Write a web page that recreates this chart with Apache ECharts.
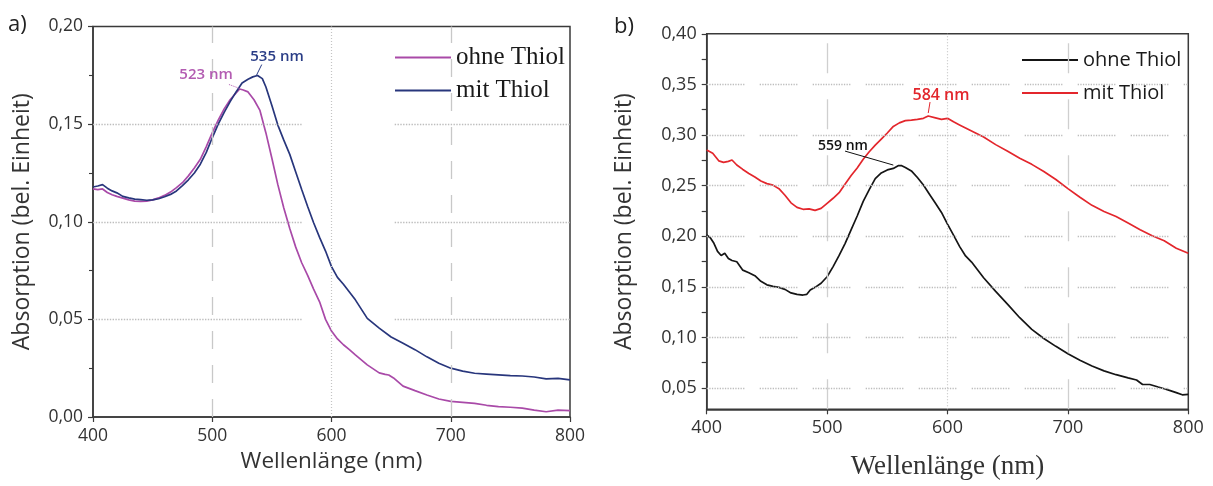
<!DOCTYPE html>
<html><head><meta charset="utf-8">
<script src="https://cdn.jsdelivr.net/npm/echarts@6/dist/echarts.min.js"></script>
<style>html,body{margin:0;padding:0;background:#fff}#c{width:1213px;height:486px}</style>
</head><body><div id="c"></div><script>
// ---------- Panel a) data ----------
const wlA_ohne = [400,404,408,412,416,420,425,430,435,440,445,450,455,460,465,470,475,480,485,490,495,500,505,510,515,520,523,526,530,535,540,545,550,555,560,565,570,575,580,585,590,595,600,605,610,615,620,630,640,645,648,652,660,670,680,690,700,710,720,730,740,750,760,770,780,790,800];
const absA_ohne = [0.1168,0.1165,0.1168,0.1150,0.1138,0.1130,0.1121,0.1112,0.1106,0.1104,0.1106,0.1112,0.1122,0.1135,0.1152,0.1175,0.1200,0.1235,0.1275,0.1320,0.1385,0.1455,0.1520,0.1578,0.1625,0.1660,0.1680,0.1675,0.1665,0.1625,0.1570,0.1455,0.1325,0.1190,0.1070,0.0965,0.0870,0.0790,0.0725,0.0655,0.0590,0.0500,0.0440,0.0400,0.0370,0.0345,0.0318,0.0267,0.0226,0.0218,0.0215,0.0200,0.0158,0.0135,0.0113,0.0092,0.0080,0.0075,0.0070,0.0060,0.0053,0.0050,0.0045,0.0035,0.0027,0.0035,0.0033];
const wlA_mit = [400,404,408,412,416,420,425,430,435,440,445,450,455,460,465,470,475,480,485,490,495,500,505,510,515,520,525,530,534,538,542,545,550,555,560,565,570,575,580,585,590,595,600,605,610,615,620,630,640,650,660,670,680,690,700,710,720,730,740,750,760,770,780,790,800];
const absA_mit = [0.1178,0.1183,0.1190,0.1172,0.1158,0.1148,0.1130,0.1122,0.1116,0.1113,0.1110,0.1112,0.1118,0.1128,0.1140,0.1158,0.1185,0.1215,0.1250,0.1295,0.1355,0.1430,0.1500,0.1560,0.1615,0.1665,0.1711,0.1730,0.1742,0.1749,0.1733,0.1690,0.1595,0.1495,0.1418,0.1345,0.1255,0.1165,0.1078,0.0995,0.0920,0.0850,0.0770,0.0715,0.0680,0.0640,0.0600,0.0505,0.0455,0.0410,0.0378,0.0345,0.0308,0.0275,0.0250,0.0235,0.0224,0.0220,0.0216,0.0212,0.0210,0.0205,0.0195,0.0198,0.0190];

// ---------- Panel b) data ----------
const wlB_ohne = [400,403,406,409,412,415,418,421,425,430,435,440,445,450,455,460,465,470,475,480,483,486,490,495,500,505,510,515,520,525,530,535,540,545,550,555,559,562,565,570,575,580,585,590,595,600,605,610,615,620,630,640,650,660,670,680,690,700,710,720,730,740,750,757,762,768,775,780,785,790,795,800];
const absB_ohne = [0.2012,0.1985,0.1930,0.1850,0.1810,0.1831,0.1780,0.1760,0.1748,0.1665,0.1640,0.1610,0.1555,0.1520,0.1505,0.1495,0.1475,0.1440,0.1425,0.1419,0.1425,0.1468,0.1495,0.1535,0.1600,0.1700,0.1810,0.1930,0.2065,0.2200,0.2345,0.2460,0.2570,0.2625,0.2655,0.2670,0.2697,0.2697,0.2680,0.2645,0.2580,0.2506,0.2415,0.2325,0.2235,0.2120,0.2010,0.1900,0.1805,0.1745,0.1590,0.1455,0.1327,0.1195,0.1080,0.0990,0.0912,0.0838,0.0775,0.0718,0.0670,0.0632,0.0600,0.0579,0.0535,0.0535,0.0510,0.0493,0.0475,0.0455,0.0433,0.0437];
const wlB_mit = [400,405,410,414,418,421,425,430,435,440,445,450,455,460,465,470,475,480,485,490,495,500,505,510,515,520,525,530,535,540,545,550,555,560,565,570,575,580,584,590,595,600,605,610,620,630,640,650,660,670,680,690,700,710,720,730,740,750,760,770,780,790,800];
const absB_mit = [0.2852,0.2820,0.2745,0.2730,0.2740,0.2753,0.2704,0.2660,0.2620,0.2585,0.2545,0.2520,0.2505,0.2470,0.2405,0.2330,0.2285,0.2266,0.2270,0.2255,0.2275,0.2325,0.2375,0.2430,0.2515,0.2600,0.2675,0.2760,0.2835,0.2900,0.2960,0.3020,0.3085,0.3120,0.3142,0.3148,0.3155,0.3165,0.3188,0.3170,0.3155,0.3165,0.3130,0.3100,0.3040,0.2980,0.2905,0.2840,0.2770,0.2710,0.2640,0.2560,0.2470,0.2385,0.2305,0.2245,0.2195,0.2130,0.2065,0.2005,0.1955,0.1882,0.1831];

// ---------- axes / ticks ----------
const xTicks = [400,500,600,700,800];
const yLabelsA = [0,0.05,0.10,0.15,0.20];
const yLabelsB = [0.05,0.10,0.15,0.20,0.25,0.30,0.35,0.40];
const yTicksB = [0.05,0.075,0.10,0.125,0.15,0.175,0.20,0.225,0.25,0.275,0.30,0.325,0.35,0.375,0.40];
const gridYA = [0.05,0.10,0.15];
const gridYB = [0.05,0.10,0.15,0.20,0.25,0.30,0.35];
const gridX = [500,600,700];

// ---------- labels ----------
const peakA_ohne = {text:'523 nm', at:[494.8,0.1754], lead:[[514,0.1703],[523.3,0.1682]]};
const peakA_mit  = {text:'535 nm', at:[554.3,0.1846], lead:[[541.5,0.1805],[537,0.1749]]};
const peakB_mit  = {text:'584 nm', at:[594.6,0.3395], lead:[[585.5,0.3326],[584,0.3217]]};
const peakB_ohne = {text:'559 nm', at:[513.2,0.2891], lead:[[514.9,0.2841],[555,0.2703]]};

const SANS = '"Open Sans", "DejaVu Sans", sans-serif';
const SERIF = '"Liberation Serif", "DejaVu Serif", serif';
const AX = '#3a3a3a';
const C_PURPLE = '#a94aa8', C_BLUE = '#28367c', C_RED = '#e3262c', C_BLACK = '#151515';
const fmt = v => (Math.round(v*100)/100).toFixed(2).replace('.', ',');
const pairs = (xs, ys) => xs.map((x,i)=>[x, ys[i]]);

// dotted groups pattern for panel b grid
const segDash = [];
for (let i=0;i<15;i++){ segDash.push(1.3,1.3); }
segDash[segDash.length-1] += 14;

function peakMarks(p, color, size, leadType){
  return {
    markPoint: {
      silent:true, animation:false, symbol:'circle', symbolSize:1,
      itemStyle:{color:'rgba(0,0,0,0)'},
      data:[{coord:p.at, label:{show:true, position:'inside', formatter:p.text, color:color, fontSize:size, fontFamily:SANS, fontWeight:600, letterSpacing:-0.5}}]
    },
    markLine: {
      silent:true, animation:false, symbol:['none','none'], label:{show:false},
      lineStyle:{color:color, width:1, type:leadType},
      data:[[{coord:p.lead[0]},{coord:p.lead[1]}]]
    }
  };
}

const hDotA = {color:'#bdbdbd', width:1.4, type:'dotted'};
const gridLinesA = [];
gridYA.forEach(v => {
  gridLinesA.push([{coord:[400,v], lineStyle:hDotA},{coord:[576,v]}]);
  gridLinesA.push([{coord:[653,v], lineStyle:hDotA},{coord:[800,v]}]);
});
gridX.forEach(v => {
  gridLinesA.push({xAxis:v, lineStyle: v===600 ? {color:'#c4c4c4', width:1.2, type:[1,2]} : {color:'#c8c8c8', width:1.3, type:[18,16]}});
});
const gridLinesB = [];
gridYB.forEach(v => gridLinesB.push({yAxis:v, lineStyle:{color:'#bdbdbd', width:1.3, type:segDash}}));
gridX.forEach(v => {
  gridLinesB.push({xAxis:v, lineStyle: v===600 ? {color:'#c4c4c4', width:1.2, type:[1,2]} : {color:'#cfcfcf', width:1.3, type:[30,26]}});
});

const axisCommon = (font) => ({
  axisLine:{show:true, onZero:false, lineStyle:{color:AX, width:1.5}},
  axisTick:{show:true, length:5, lineStyle:{color:AX, width:1.2}},
  splitLine:{show:false},
  axisLabel:{fontFamily:SANS, fontSize:font, color:'#333', margin:10}
});

const legendBase = {orient:'vertical', icon:'rect', itemWidth:56, itemHeight:2, selectedMode:false,
  formatter:n=>n.replace(/ \(.\)$/,'')};

const yA = axisCommon(17.5);
yA.axisLabel.formatter = v => fmt(v);
const yB = axisCommon(18);
yB.axisLabel.customValues = yLabelsB;
yB.axisLabel.formatter = v => fmt(v);
yB.axisTick.customValues = yTicksB;

const chart = echarts.init(document.getElementById('c'), null, {renderer:'canvas'});
chart.setOption({
  animation:false,
  backgroundColor:'#fff',
  title:[
    {text:'a)', left:8, top:14, padding:0, textStyle:{fontFamily:SANS, fontSize:22, fontWeight:'normal', color:'#222'}},
    {text:'b)', left:614, top:16, padding:0, textStyle:{fontFamily:SANS, fontSize:22, fontWeight:'normal', color:'#222'}}
  ],
  grid:[
    {left:93, top:26.5, width:477, height:390.5, show:true, borderColor:AX, borderWidth:1.5, backgroundColor:'transparent'},
    {left:706.7, top:33.8, width:481.6, height:375.5, show:true, borderColor:AX, borderWidth:1.5, backgroundColor:'transparent'}
  ],
  legend:[
    Object.assign({}, legendBase, {left:390, top:40, itemGap:8,
     data:['ohne Thiol (a)','mit Thiol (a)'],
     textStyle:{fontFamily:SERIF, fontSize:25, color:'#1a1a1a', lineHeight:25}}),
    Object.assign({}, legendBase, {left:1017, top:45, itemGap:13,
     data:['ohne Thiol (b)','mit Thiol (b)'],
     textStyle:{fontFamily:SANS, fontSize:20, color:'#1a1a1a', lineHeight:20}})
  ],
  xAxis:[
    Object.assign(axisCommon(17.5), {type:'value', gridIndex:0, min:xTicks[0], max:xTicks[xTicks.length-1], interval:100,
      name:'Wellenlänge (nm)', nameLocation:'middle', nameGap:33,
      nameTextStyle:{fontFamily:SANS, fontSize:22.5, color:'#333'}}),
    Object.assign(axisCommon(18), {type:'value', gridIndex:1, min:xTicks[0], max:xTicks[xTicks.length-1], interval:100,
      name:'Wellenlänge (nm)', nameLocation:'middle', nameGap:44,
      nameTextStyle:{fontFamily:SERIF, fontSize:27, color:'#333'}})
  ],
  yAxis:[
    Object.assign(yA, {type:'value', gridIndex:0, min:yLabelsA[0], max:yLabelsA[yLabelsA.length-1], interval:0.05,
      minorTick:{show:true, splitNumber:2, length:4, lineStyle:{color:AX, width:1.1}},
      name:'Absorption (bel. Einheit)', nameLocation:'middle', nameGap:59,
      nameTextStyle:{fontFamily:SANS, fontSize:23, color:'#333'}}),
    Object.assign(yB, {type:'value', gridIndex:1, min:0.029, max:0.40,
      name:'Absorption (bel. Einheit)', nameLocation:'middle', nameGap:71,
      nameTextStyle:{fontFamily:SANS, fontSize:23, color:'#333'}})
  ],
  series:[
    {type:'line', name:'gridA', xAxisIndex:0, yAxisIndex:0, data:[], silent:true, z:1,
     markLine:{silent:true, animation:false, symbol:['none','none'], label:{show:false}, data:gridLinesA}},
    {type:'line', name:'gridB', xAxisIndex:1, yAxisIndex:1, data:[], silent:true, z:1,
     markLine:{silent:true, animation:false, symbol:['none','none'], label:{show:false}, data:gridLinesB}},
    Object.assign({type:'line', name:'ohne Thiol (a)', xAxisIndex:0, yAxisIndex:0, data:pairs(wlA_ohne, absA_ohne),
      showSymbol:false, symbol:'none', z:3, itemStyle:{color:C_PURPLE}, lineStyle:{color:C_PURPLE, width:1.7}},
      peakMarks(peakA_ohne, '#b35cb2', 15, 'dotted')),
    Object.assign({type:'line', name:'mit Thiol (a)', xAxisIndex:0, yAxisIndex:0, data:pairs(wlA_mit, absA_mit),
      showSymbol:false, symbol:'none', z:4, itemStyle:{color:C_BLUE}, lineStyle:{color:C_BLUE, width:1.7}},
      peakMarks(peakA_mit, '#2a3d86', 15, 'solid')),
    Object.assign({type:'line', name:'ohne Thiol (b)', xAxisIndex:1, yAxisIndex:1, data:pairs(wlB_ohne, absB_ohne),
      showSymbol:false, symbol:'none', z:3, itemStyle:{color:C_BLACK}, lineStyle:{color:C_BLACK, width:1.7}},
      peakMarks(peakB_ohne, '#111', 14, 'solid')),
    Object.assign({type:'line', name:'mit Thiol (b)', xAxisIndex:1, yAxisIndex:1, data:pairs(wlB_mit, absB_mit),
      showSymbol:false, symbol:'none', z:4, itemStyle:{color:C_RED}, lineStyle:{color:C_RED, width:1.7}},
      peakMarks(peakB_mit, '#e2262c', 16, 'solid'))
  ]
});
</script></body></html>
